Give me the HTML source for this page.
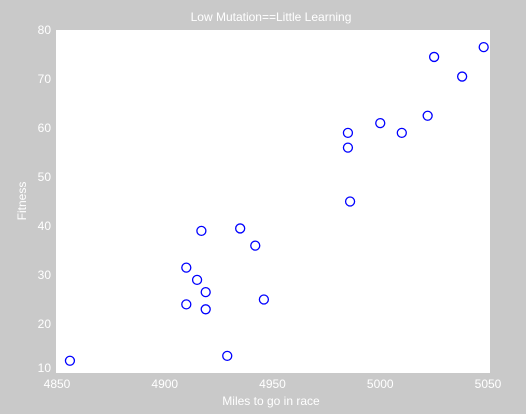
<!DOCTYPE html>
<html><head><meta charset="utf-8"><style>
body{margin:0;width:526px;height:414px;background:#c9c9c9;overflow:hidden}
svg{display:block;font-family:"Liberation Sans",sans-serif}
</style></head><body>
<svg id="chart" width="526" height="414">
<rect x="0" y="0" width="526" height="414" fill="#c9c9c9"/>
<rect x="56" y="30" width="434" height="343" fill="#fff"/>
<text x="271" y="21" text-anchor="middle" fill="#fff" font-size="12">Low Mutation==Little Learning</text>
<text x="271" y="405" text-anchor="middle" fill="#fff" font-size="12">Miles to go in race</text>
<text x="26" y="201" text-anchor="middle" fill="#fff" font-size="12" transform="rotate(-90 26 201)">Fitness</text>
<g id="marks"></g>
</svg>
<script>
const xTicks=[4850,4900,4950,5000,5050];
const yTicks=[10,20,30,40,50,60,70,80];
const milesValues=[4856,4910,4910,4915,4917,4919,4919,4929,4935,4942,4946,4985,4985,4986,5000,5010,5022,5025,5038,5048];
const fitnessValues=[12.5,31.5,24,29,39,26.5,23,13.5,39.5,36,25,59,56,45,61,59,62.5,74.5,70.5,76.5];
const X0=57,X1=488,Y0=373,Y1=30;
function xs(v){return X0+(v-4850)/200*(X1-X0);}
function ys(v){return Y0-(v-10)/70*(Y0-Y1);}
const ns="http://www.w3.org/2000/svg";
const svg=document.getElementById('chart');
const g=document.getElementById('marks');
xTicks.forEach(t=>{
  const el=document.createElementNS(ns,'text');
  el.setAttribute('x',xs(t));el.setAttribute('y',388);
  el.setAttribute('text-anchor','middle');el.setAttribute('fill','#fff');el.setAttribute('font-size','12');
  el.textContent=t;
  
  
  svg.appendChild(el);
});
yTicks.forEach(t=>{
  const el=document.createElementNS(ns,'text');
  el.setAttribute('x',51);el.setAttribute('y',ys(t)+(t===10?-1:4));
  el.setAttribute('text-anchor','end');el.setAttribute('fill','#fff');el.setAttribute('font-size','12');
  el.textContent=t;
  
  
  svg.appendChild(el);
});
milesValues.forEach((m,i)=>{
  const c=document.createElementNS(ns,'circle');
  c.setAttribute('cx',xs(m));c.setAttribute('cy',ys(fitnessValues[i]));c.setAttribute('r',4.5);
  c.setAttribute('fill','none');c.setAttribute('stroke','#0000ff');c.setAttribute('stroke-width','1.3');
  
  
  g.appendChild(c);
});
</script>
</body></html>
